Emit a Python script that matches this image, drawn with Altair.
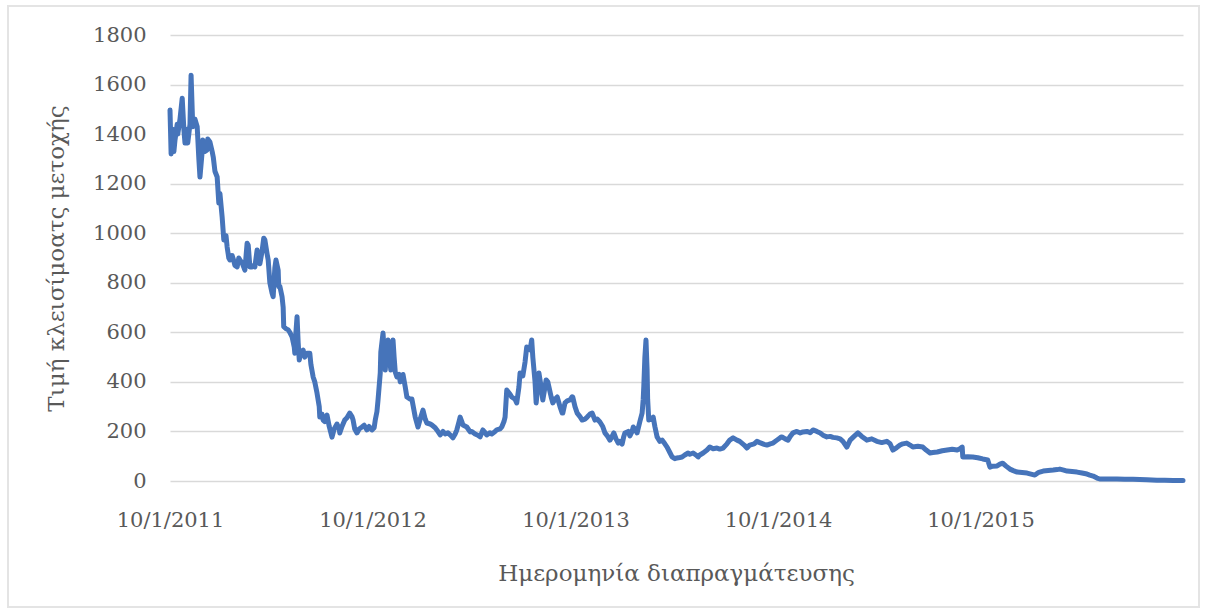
import altair as alt
import pandas as pd

# Closing share price, sampled from the daily series.
# day = calendar days after 10/1/2011, price = closing price that day.
day = [
    0, 2, 5, 7, 9, 13, 14, 18, 22, 25, 27, 31, 32, 36, 38, 41, 45, 49, 52, 54,
    58, 59, 63, 67, 68, 72, 76, 78, 81, 85, 88, 90, 94, 97, 101, 103, 106, 108, 112, 114,
    117, 121, 124, 126, 130, 135, 139, 141, 144, 148, 151, 153, 157, 160, 162, 166, 169, 171, 175, 177,
    180, 184, 186, 189, 191, 195, 196, 198, 202, 204, 205, 209, 213, 216, 220, 224, 225, 227, 229, 231,
    233, 236, 240, 243, 247, 252, 254, 258, 261, 265, 269, 270, 274, 276, 279, 283, 287, 292, 296, 301,
    305, 306, 310, 315, 319, 324, 328, 330, 333, 337, 341, 346, 350, 355, 359, 364, 368, 370, 373, 375,
    379, 380, 384, 388, 391, 393, 397, 398, 402, 404, 406, 409, 413, 415, 420, 424, 427, 433, 436, 442,
    447, 451, 456, 460, 463, 469, 472, 478, 481, 487, 492, 496, 501, 505, 510, 514, 517, 521, 523, 526,
    528, 535, 541, 544, 550, 555, 559, 564, 568, 571, 577, 580, 586, 589, 595, 598, 602, 604, 607, 613,
    616, 622, 625, 629, 631, 636, 640, 643, 649, 652, 654, 658, 660, 663, 665, 669, 672, 676, 678, 681,
    683, 687, 690, 694, 698, 703, 707, 708, 712, 716, 721, 725, 726, 730, 734, 739, 743, 748, 752, 757,
    761, 766, 770, 775, 780, 784, 789, 793, 797, 800, 804, 808, 811, 815, 818, 820, 826, 829, 833, 835,
    838, 842, 847, 851, 853, 854, 856, 858, 860, 861, 863, 867, 871, 874, 878, 883, 887, 892, 896, 901,
    905, 910, 914, 919, 923, 928, 934, 937, 943, 948, 952, 955, 961, 968, 973, 979, 986, 991, 997, 1004,
    1009, 1015, 1022, 1027, 1035, 1040, 1045, 1053, 1058, 1063, 1071, 1076, 1082, 1087, 1094, 1100, 1103, 1109, 1114, 1118,
    1123, 1130, 1136, 1141, 1148, 1154, 1159, 1166, 1172, 1177, 1184, 1190, 1195, 1202, 1208, 1213, 1220, 1226, 1233, 1240,
    1247, 1256, 1265, 1274, 1283, 1292, 1298, 1303, 1310, 1316, 1321, 1328, 1334, 1339, 1348, 1357, 1363, 1370, 1375, 1383,
    1392, 1401, 1410, 1419, 1424, 1428, 1429, 1438, 1447, 1456, 1465, 1474, 1478, 1483, 1491, 1496, 1501, 1507, 1514, 1520,
    1527, 1536, 1545, 1552, 1559, 1566, 1574, 1583, 1592, 1599, 1604, 1611, 1617, 1626, 1635, 1644, 1653, 1658, 1664, 1671,
    1676, 1691, 1707, 1721, 1736, 1748, 1761, 1770, 1779, 1793, 1808, 1826,
]
price = [
    1497, 1320, 1420, 1330, 1376, 1440, 1400, 1460, 1545, 1420, 1364, 1420, 1364, 1440, 1638, 1430, 1460, 1430, 1300, 1227,
    1330, 1376, 1330, 1336, 1380, 1368, 1330, 1307, 1250, 1227, 1122, 1160, 1065, 973, 990, 944, 900, 892, 910, 896,
    870, 864, 900, 892, 880, 851, 960, 952, 864, 864, 870, 864, 932, 900, 877, 928, 980, 973, 917, 892,
    800, 758, 744, 860, 892, 850, 784, 786, 744, 700, 623, 615, 610, 600, 582, 540, 516, 600, 663, 560,
    488, 520, 528, 500, 516, 516, 470, 420, 400, 355, 300, 258, 270, 246, 240, 266, 220, 177, 210, 230,
    210, 194, 220, 246, 255, 274, 260, 246, 210, 194, 210, 218, 225, 206, 220, 206, 215, 246, 280, 327,
    436, 520, 597, 448, 540, 569, 470, 448, 569, 500, 440, 420, 430, 400, 430, 380, 339, 330, 331, 258,
    218, 250, 286, 250, 234, 230, 226, 215, 206, 186, 200, 190, 195, 186, 174, 190, 206, 240, 258, 240,
    226, 218, 198, 200, 190, 185, 178, 206, 195, 186, 195, 190, 200, 206, 210, 218, 240, 258, 367, 350,
    339, 330, 315, 380, 436, 424, 480, 541, 529, 569, 500, 400, 315, 380, 436, 380, 327, 380, 408, 400,
    380, 340, 315, 330, 339, 300, 274, 274, 315, 323, 327, 340, 339, 300, 274, 260, 246, 250, 258, 270,
    274, 246, 250, 238, 220, 194, 180, 165, 180, 194, 170, 153, 160, 149, 180, 194, 200, 182, 200, 218,
    210, 194, 240, 274, 330, 379, 500, 569, 448, 330, 246, 250, 258, 220, 178, 160, 165, 150, 137, 115,
    97, 90, 93, 95, 97, 105, 113, 108, 113, 105, 97, 105, 113, 125, 137, 130, 133, 129, 133, 150,
    165, 174, 165, 160, 145, 133, 145, 150, 160, 155, 148, 145, 150, 153, 165, 175, 178, 170, 165, 180,
    194, 200, 194, 198, 200, 195, 206, 200, 194, 185, 178, 180, 176, 174, 170, 160, 137, 165, 180, 194,
    180, 165, 170, 160, 155, 160, 150, 125, 135, 145, 150, 153, 145, 137, 140, 137, 125, 113, 115, 117,
    122, 125, 128, 125, 130, 137, 97, 98, 97, 94, 89, 85, 56, 60, 61, 68, 72, 60, 48, 42,
    36, 34, 32, 28, 24, 35, 40, 42, 44, 46, 48, 44, 40, 38, 36, 32, 28, 24, 20, 12,
    8, 8, 8, 7, 7, 6, 5, 4, 3, 3, 2, 2,
]
y_ticks = [0, 200, 400, 600, 800, 1000, 1200, 1400, 1600, 1800]
x_tick_years = [2011, 2012, 2013, 2014, 2015]

start = pd.Timestamp("2011-01-10")
df = pd.DataFrame({
    "date": (start + pd.to_timedelta(day, unit="D")).strftime("%Y-%m-%d"),
    "price": price,
})

FONT = "DejaVu Serif"
TEXT = "#595959"

line = alt.Chart(df).mark_line(
    color="#4674BA", strokeWidth=5, strokeJoin="round", strokeCap="round", clip=False
).encode(
    x=alt.X(
        "date:T",
        scale=alt.Scale(
            type="utc",
            domain=[alt.DateTime(year=2011, month=1, date=10, utc=True),
                    alt.DateTime(year=2016, month=1, date=10, utc=True)],
        ),
        axis=alt.Axis(
            title="Ημερομηνία διαπραγμάτευσης",
            values=[alt.DateTime(year=y, month=1, date=10, utc=True) for y in x_tick_years],
            labelExpr="utcFormat(datum.value, '%-d/%-m/%Y')",
            labelFlush=False,
            labelOverlap=False,
            grid=False,
            ticks=False,
            domain=False,
            labelPadding=28,
            labelFontSize=21,
            labelFont=FONT,
            labelColor=TEXT,
            titleFont=FONT,
            titleFontSize=23,
            titleFontWeight="normal",
            titleColor=TEXT,
            titleX=506,
            titleY=92,
            titleBaseline="middle",
        ),
    ),
    y=alt.Y(
        "price:Q",
        scale=alt.Scale(domain=[0, 1800], nice=False),
        axis=alt.Axis(
            title="Τιμή κλεισίμοατς μετοχής",
            values=y_ticks,
            format="d",
            grid=True,
            gridColor="#d9d9d9",
            gridWidth=1.5,
            ticks=False,
            domain=False,
            labelPadding=24,
            labelFontSize=21,
            labelFont=FONT,
            labelColor=TEXT,
            titleFont=FONT,
            titleFontSize=23,
            titleFontWeight="normal",
            titleColor=TEXT,
            titleX=-114,
            titleY=223,
            titleBaseline="middle",
        ),
    ),
)

# Thin outer frame around the whole figure
frame = alt.Chart(df).mark_rect(
    fill=None, stroke="#e3e3e3", strokeWidth=1.5
).encode(
    x=alt.value(-162), x2=alt.value(1029), y=alt.value(-29), y2=alt.value(572)
)

chart = alt.layer(frame, line).properties(
    width=1013,
    height=446,
    padding={"left": 170, "top": 35, "right": 23, "bottom": 129},
    autosize=alt.AutoSizeParams(type="none"),
    background="white",
).configure_view(stroke=None)

chart.save("out.html", embed_options={"renderer": "svg", "actions": False})
